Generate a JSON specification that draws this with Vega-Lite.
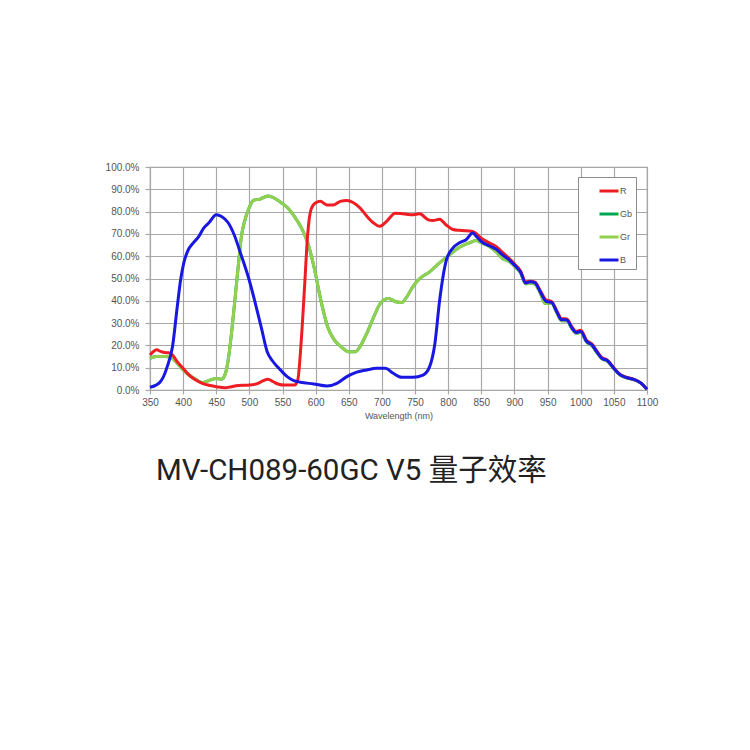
{
  "$schema": "https://vega.github.io/schema/vega-lite/v6.json",
  "autosize": {"type": "none"},
  "padding": {"left": 150, "top": 167, "right": 103, "bottom": 360},
  "width": 497,
  "height": 223,
  "background": "white",
  "title": {
    "text": "MV-CH089-60GC V5 量子效率",
    "orient": "bottom",
    "anchor": "start",
    "frame": "group",
    "baseline": "alphabetic",
    "offset": 60,
    "dx": 6,
    "font": "Roboto, Noto Sans CJK SC",
    "fontSize": 29.5,
    "fontWeight": "normal",
    "color": "#222222"
  },
  "datasets": {
    "qe": [
      {"ch":"R","wl":350,"qe":15.7},{"ch":"R","wl":355,"qe":17.2},{"ch":"R","wl":360,"qe":18},{"ch":"R","wl":366,"qe":17.3},{"ch":"R","wl":372,"qe":16.8},{"ch":"R","wl":378,"qe":16.7},{"ch":"R","wl":384,"qe":15.7},{"ch":"R","wl":391,"qe":12.7},{"ch":"R","wl":400,"qe":9.7},{"ch":"R","wl":409,"qe":6.7},{"ch":"R","wl":419,"qe":4.5},{"ch":"R","wl":429,"qe":3},{"ch":"R","wl":439,"qe":2.1},{"ch":"R","wl":450,"qe":1.5},{"ch":"R","wl":463,"qe":1.0},{"ch":"R","wl":473,"qe":1.5},{"ch":"R","wl":483,"qe":2.0},{"ch":"R","wl":500,"qe":2.2},{"ch":"R","wl":513,"qe":3.0},{"ch":"R","wl":521,"qe":4.2},{"ch":"R","wl":528,"qe":4.8},{"ch":"R","wl":536,"qe":3.7},{"ch":"R","wl":543,"qe":2.7},{"ch":"R","wl":553,"qe":2.2},{"ch":"R","wl":568,"qe":2.2},{"ch":"R","wl":573,"qe":4.5},{"ch":"R","wl":578,"qe":21},{"ch":"R","wl":583,"qe":45},{"ch":"R","wl":588,"qe":70},{"ch":"R","wl":593,"qe":81},{"ch":"R","wl":600,"qe":84},{"ch":"R","wl":607,"qe":84.6},{"ch":"R","wl":617,"qe":83},{"ch":"R","wl":627,"qe":83},{"ch":"R","wl":637,"qe":84.6},{"ch":"R","wl":647,"qe":85},{"ch":"R","wl":657,"qe":84},{"ch":"R","wl":667,"qe":81.6},{"ch":"R","wl":677,"qe":78},{"ch":"R","wl":687,"qe":75},{"ch":"R","wl":697,"qe":73.4},{"ch":"R","wl":707,"qe":75.6},{"ch":"R","wl":720,"qe":79.3},{"ch":"R","wl":732,"qe":79},{"ch":"R","wl":747,"qe":78.6},{"ch":"R","wl":757,"qe":79},{"ch":"R","wl":770,"qe":76.3},{"ch":"R","wl":777,"qe":76},{"ch":"R","wl":787,"qe":76.6},{"ch":"R","wl":797,"qe":74},{"ch":"R","wl":807,"qe":72},{"ch":"R","wl":817,"qe":71.6},{"ch":"R","wl":837,"qe":71.1},{"ch":"R","wl":850,"qe":68},{"ch":"R","wl":862,"qe":66},{"ch":"R","wl":872,"qe":64.4},{"ch":"R","wl":882,"qe":61.7},{"ch":"R","wl":892,"qe":59},{"ch":"R","wl":900,"qe":56.5},{"ch":"R","wl":909,"qe":53.5},{"ch":"R","wl":917,"qe":48.5},{"ch":"R","wl":924,"qe":48.8},{"ch":"R","wl":931,"qe":48.4},{"ch":"R","wl":939,"qe":44.5},{"ch":"R","wl":948,"qe":40.3},{"ch":"R","wl":956,"qe":39.7},{"ch":"R","wl":964,"qe":35.4},{"ch":"R","wl":971,"qe":32},{"ch":"R","wl":979,"qe":31.8},{"ch":"R","wl":987,"qe":28.2},{"ch":"R","wl":993,"qe":26.3},{"ch":"R","wl":1000,"qe":26.8},{"ch":"R","wl":1009,"qe":22.2},{"ch":"R","wl":1017,"qe":20.6},{"ch":"R","wl":1024,"qe":17.6},{"ch":"R","wl":1032,"qe":14.5},{"ch":"R","wl":1040,"qe":13.4},{"ch":"R","wl":1050,"qe":9.9},{"ch":"R","wl":1060,"qe":6.8},{"ch":"R","wl":1070,"qe":5.6},{"ch":"R","wl":1080,"qe":4.8},{"ch":"R","wl":1090,"qe":3.3},{"ch":"R","wl":1100,"qe":0.3},

      {"ch":"Gb","wl":350,"qe":14.2},{"ch":"Gb","wl":359,"qe":15},{"ch":"Gb","wl":374,"qe":15},{"ch":"Gb","wl":384,"qe":14.2},{"ch":"Gb","wl":391,"qe":12},{"ch":"Gb","wl":400,"qe":9},{"ch":"Gb","wl":409,"qe":6.7},{"ch":"Gb","wl":419,"qe":4.8},{"ch":"Gb","wl":429,"qe":3.3},{"ch":"Gb","wl":439,"qe":4.2},{"ch":"Gb","wl":450,"qe":5.2},{"ch":"Gb","wl":458,"qe":4.8},{"ch":"Gb","wl":463,"qe":6.7},{"ch":"Gb","wl":468,"qe":13.5},{"ch":"Gb","wl":473,"qe":25.4},{"ch":"Gb","wl":478,"qe":40},{"ch":"Gb","wl":483,"qe":55},{"ch":"Gb","wl":488,"qe":69},{"ch":"Gb","wl":493,"qe":76},{"ch":"Gb","wl":500,"qe":82},{"ch":"Gb","wl":506,"qe":85},{"ch":"Gb","wl":516,"qe":85.6},{"ch":"Gb","wl":528,"qe":87},{"ch":"Gb","wl":538,"qe":86},{"ch":"Gb","wl":548,"qe":84},{"ch":"Gb","wl":558,"qe":81.6},{"ch":"Gb","wl":568,"qe":77.8},{"ch":"Gb","wl":578,"qe":73},{"ch":"Gb","wl":588,"qe":66},{"ch":"Gb","wl":598,"qe":54.5},{"ch":"Gb","wl":608,"qe":40},{"ch":"Gb","wl":618,"qe":28.4},{"ch":"Gb","wl":628,"qe":22.5},{"ch":"Gb","wl":638,"qe":19.5},{"ch":"Gb","wl":650,"qe":17.2},{"ch":"Gb","wl":660,"qe":17.2},{"ch":"Gb","wl":668,"qe":20},{"ch":"Gb","wl":678,"qe":26},{"ch":"Gb","wl":688,"qe":33},{"ch":"Gb","wl":698,"qe":39},{"ch":"Gb","wl":710,"qe":41},{"ch":"Gb","wl":720,"qe":39.7},{"ch":"Gb","wl":730,"qe":39.2},{"ch":"Gb","wl":737,"qe":41.5},{"ch":"Gb","wl":746,"qe":46},{"ch":"Gb","wl":757,"qe":50},{"ch":"Gb","wl":772,"qe":53},{"ch":"Gb","wl":787,"qe":57},{"ch":"Gb","wl":802,"qe":60.6},{"ch":"Gb","wl":817,"qe":64},{"ch":"Gb","wl":832,"qe":66},{"ch":"Gb","wl":842,"qe":67},{"ch":"Gb","wl":850,"qe":66},{"ch":"Gb","wl":862,"qe":64.4},{"ch":"Gb","wl":872,"qe":62},{"ch":"Gb","wl":882,"qe":59},{"ch":"Gb","wl":892,"qe":57.6},{"ch":"Gb","wl":902,"qe":55},{"ch":"Gb","wl":909,"qe":52.6},{"ch":"Gb","wl":917,"qe":47.6},{"ch":"Gb","wl":924,"qe":48},{"ch":"Gb","wl":931,"qe":47.5},{"ch":"Gb","wl":939,"qe":43.5},{"ch":"Gb","wl":946,"qe":38.8},{"ch":"Gb","wl":956,"qe":38.9},{"ch":"Gb","wl":964,"qe":34.6},{"ch":"Gb","wl":971,"qe":31.1},{"ch":"Gb","wl":979,"qe":31},{"ch":"Gb","wl":987,"qe":27.3},{"ch":"Gb","wl":993,"qe":25.4},{"ch":"Gb","wl":1000,"qe":25.8},{"ch":"Gb","wl":1009,"qe":21.4},{"ch":"Gb","wl":1017,"qe":19.9},{"ch":"Gb","wl":1024,"qe":16.9},{"ch":"Gb","wl":1032,"qe":14},{"ch":"Gb","wl":1040,"qe":13},{"ch":"Gb","wl":1050,"qe":9.6},{"ch":"Gb","wl":1060,"qe":6.6},{"ch":"Gb","wl":1070,"qe":5.4},{"ch":"Gb","wl":1080,"qe":4.7},{"ch":"Gb","wl":1090,"qe":3.2},{"ch":"Gb","wl":1100,"qe":0.3},

      {"ch":"Gr","wl":350,"qe":14.2},{"ch":"Gr","wl":359,"qe":15},{"ch":"Gr","wl":374,"qe":15},{"ch":"Gr","wl":384,"qe":14.2},{"ch":"Gr","wl":391,"qe":12},{"ch":"Gr","wl":400,"qe":9},{"ch":"Gr","wl":409,"qe":6.7},{"ch":"Gr","wl":419,"qe":4.8},{"ch":"Gr","wl":429,"qe":3.3},{"ch":"Gr","wl":439,"qe":4.2},{"ch":"Gr","wl":450,"qe":5.2},{"ch":"Gr","wl":458,"qe":4.8},{"ch":"Gr","wl":463,"qe":6.7},{"ch":"Gr","wl":468,"qe":13.5},{"ch":"Gr","wl":473,"qe":25.4},{"ch":"Gr","wl":478,"qe":40},{"ch":"Gr","wl":483,"qe":55},{"ch":"Gr","wl":488,"qe":69},{"ch":"Gr","wl":493,"qe":76},{"ch":"Gr","wl":500,"qe":82},{"ch":"Gr","wl":506,"qe":85},{"ch":"Gr","wl":516,"qe":85.6},{"ch":"Gr","wl":528,"qe":87},{"ch":"Gr","wl":538,"qe":86},{"ch":"Gr","wl":548,"qe":84},{"ch":"Gr","wl":558,"qe":81.6},{"ch":"Gr","wl":568,"qe":77.8},{"ch":"Gr","wl":578,"qe":73},{"ch":"Gr","wl":588,"qe":66},{"ch":"Gr","wl":598,"qe":54.5},{"ch":"Gr","wl":608,"qe":40},{"ch":"Gr","wl":618,"qe":28.4},{"ch":"Gr","wl":628,"qe":22.5},{"ch":"Gr","wl":638,"qe":19.5},{"ch":"Gr","wl":650,"qe":17.2},{"ch":"Gr","wl":660,"qe":17.2},{"ch":"Gr","wl":668,"qe":20},{"ch":"Gr","wl":678,"qe":26},{"ch":"Gr","wl":688,"qe":33},{"ch":"Gr","wl":698,"qe":39},{"ch":"Gr","wl":710,"qe":41},{"ch":"Gr","wl":720,"qe":39.7},{"ch":"Gr","wl":730,"qe":39.2},{"ch":"Gr","wl":737,"qe":41.5},{"ch":"Gr","wl":746,"qe":46},{"ch":"Gr","wl":757,"qe":50},{"ch":"Gr","wl":772,"qe":53},{"ch":"Gr","wl":787,"qe":57},{"ch":"Gr","wl":802,"qe":60.6},{"ch":"Gr","wl":817,"qe":64},{"ch":"Gr","wl":832,"qe":66},{"ch":"Gr","wl":842,"qe":67},{"ch":"Gr","wl":850,"qe":66},{"ch":"Gr","wl":862,"qe":64.4},{"ch":"Gr","wl":872,"qe":62},{"ch":"Gr","wl":882,"qe":59},{"ch":"Gr","wl":892,"qe":57.6},{"ch":"Gr","wl":902,"qe":55},{"ch":"Gr","wl":909,"qe":52.6},{"ch":"Gr","wl":917,"qe":47.6},{"ch":"Gr","wl":924,"qe":48},{"ch":"Gr","wl":931,"qe":47.5},{"ch":"Gr","wl":939,"qe":43.5},{"ch":"Gr","wl":946,"qe":38.8},{"ch":"Gr","wl":956,"qe":38.9},{"ch":"Gr","wl":964,"qe":34.6},{"ch":"Gr","wl":971,"qe":31.1},{"ch":"Gr","wl":979,"qe":31},{"ch":"Gr","wl":987,"qe":27.3},{"ch":"Gr","wl":993,"qe":25.4},{"ch":"Gr","wl":1000,"qe":25.8},{"ch":"Gr","wl":1009,"qe":21.4},{"ch":"Gr","wl":1017,"qe":19.9},{"ch":"Gr","wl":1024,"qe":16.9},{"ch":"Gr","wl":1032,"qe":14},{"ch":"Gr","wl":1040,"qe":13},{"ch":"Gr","wl":1050,"qe":9.6},{"ch":"Gr","wl":1060,"qe":6.6},{"ch":"Gr","wl":1070,"qe":5.4},{"ch":"Gr","wl":1080,"qe":4.7},{"ch":"Gr","wl":1090,"qe":3.2},{"ch":"Gr","wl":1100,"qe":0.3},

      {"ch":"B","wl":350,"qe":1.2},{"ch":"B","wl":359,"qe":2.2},{"ch":"B","wl":365,"qe":3.5},{"ch":"B","wl":369,"qe":5.2},{"ch":"B","wl":376,"qe":10.5},{"ch":"B","wl":384,"qe":19.5},{"ch":"B","wl":391,"qe":37},{"ch":"B","wl":396,"qe":49},{"ch":"B","wl":401,"qe":57},{"ch":"B","wl":408,"qe":63},{"ch":"B","wl":414,"qe":65.5},{"ch":"B","wl":424,"qe":69},{"ch":"B","wl":431,"qe":72.6},{"ch":"B","wl":439,"qe":75},{"ch":"B","wl":450,"qe":78.6},{"ch":"B","wl":458,"qe":77.8},{"ch":"B","wl":468,"qe":75},{"ch":"B","wl":477,"qe":69.6},{"ch":"B","wl":487,"qe":61},{"ch":"B","wl":500,"qe":49},{"ch":"B","wl":508,"qe":40},{"ch":"B","wl":518,"qe":28},{"ch":"B","wl":527,"qe":17},{"ch":"B","wl":535,"qe":13},{"ch":"B","wl":542,"qe":10.5},{"ch":"B","wl":550,"qe":8},{"ch":"B","wl":557,"qe":6},{"ch":"B","wl":567,"qe":4.2},{"ch":"B","wl":577,"qe":3.5},{"ch":"B","wl":597,"qe":2.7},{"ch":"B","wl":617,"qe":1.8},{"ch":"B","wl":632,"qe":3},{"ch":"B","wl":647,"qe":6},{"ch":"B","wl":662,"qe":8},{"ch":"B","wl":677,"qe":9},{"ch":"B","wl":692,"qe":9.7},{"ch":"B","wl":705,"qe":9.7},{"ch":"B","wl":717,"qe":7.5},{"ch":"B","wl":730,"qe":5.7},{"ch":"B","wl":747,"qe":5.7},{"ch":"B","wl":762,"qe":6.7},{"ch":"B","wl":772,"qe":10.5},{"ch":"B","wl":780,"qe":21},{"ch":"B","wl":787,"qe":40},{"ch":"B","wl":797,"qe":58},{"ch":"B","wl":807,"qe":63.6},{"ch":"B","wl":817,"qe":66},{"ch":"B","wl":827,"qe":67.4},{"ch":"B","wl":837,"qe":70.4},{"ch":"B","wl":842,"qe":69},{"ch":"B","wl":850,"qe":66.6},{"ch":"B","wl":862,"qe":64.7},{"ch":"B","wl":872,"qe":63.2},{"ch":"B","wl":882,"qe":60.6},{"ch":"B","wl":892,"qe":58.4},{"ch":"B","wl":900,"qe":56},{"ch":"B","wl":909,"qe":53},{"ch":"B","wl":917,"qe":48},{"ch":"B","wl":924,"qe":48.5},{"ch":"B","wl":931,"qe":48},{"ch":"B","wl":939,"qe":44},{"ch":"B","wl":948,"qe":39.7},{"ch":"B","wl":956,"qe":39.3},{"ch":"B","wl":964,"qe":35},{"ch":"B","wl":971,"qe":31.5},{"ch":"B","wl":979,"qe":31.4},{"ch":"B","wl":987,"qe":27.7},{"ch":"B","wl":993,"qe":25.8},{"ch":"B","wl":1000,"qe":26.2},{"ch":"B","wl":1009,"qe":21.7},{"ch":"B","wl":1017,"qe":20.2},{"ch":"B","wl":1024,"qe":17.2},{"ch":"B","wl":1032,"qe":14.2},{"ch":"B","wl":1040,"qe":13.2},{"ch":"B","wl":1050,"qe":9.7},{"ch":"B","wl":1060,"qe":6.7},{"ch":"B","wl":1070,"qe":5.5},{"ch":"B","wl":1080,"qe":4.8},{"ch":"B","wl":1090,"qe":3.3},{"ch":"B","wl":1100,"qe":0.3}
    ]
  },
  "data": {"name": "qe"},
  "encoding": {
    "x": {
      "field": "wl", "type": "quantitative",
      "scale": {"domain": [350, 1100], "nice": false, "zero": false},
      "axis": {"values": [350,400,450,500,550,600,650,700,750,800,850,900,950,1000,1050,1100], "format": "d", "labelOverlap": false, "labelFlush": false, "labelBound": false, "title": "Wavelength  (nm)", "titlePadding": 4, "labelPadding": 3, "tickSize": 4}
    },
    "y": {
      "field": "qe", "type": "quantitative",
      "scale": {"domain": [0, 100], "nice": false},
      "axis": {"values": [0,10,20,30,40,50,60,70,80,90,100], "title": null, "labelOverlap": false, "labelFlush": false, "labelBound": false, "labelExpr": "format(datum.value, '.1f') + '%'", "labelPadding": 6, "tickSize": 5}
    },
    "color": {
      "field": "ch", "type": "nominal",
      "scale": {"domain": ["R", "Gb", "Gr", "B"], "range": ["#ee1d23", "#00a651", "#92d050", "#1818e0"]},
      "legend": {
        "title": null,
        "orient": "none",
        "legendX": 428,
        "legendY": 10,
        "symbolType": "stroke",
        "symbolSize": 361,
        "symbolStrokeWidth": 3,
        "symbolOffset": 17,
        "padding": 3,
        "rowPadding": 6,
        "labelOffset": 0,
        "labelFont": "Liberation Sans",
        "labelFontSize": 9,
        "labelColor": "#555555",
        "labelExpr": "datum.label + '\u00a0\u00a0\u00a0\u00a0\u00a0\u00a0\u00a0\u00a0\u00a0\u00a0'",
        "strokeColor": "#8c8c8c",
        "fillColor": "white"
      }
    }
  },
  "layer": [
    {"transform": [{"filter": "datum.ch === 'Gb'"}], "mark": {"type": "line", "strokeWidth": 3, "interpolate": "monotone"}},
    {"transform": [{"filter": "datum.ch === 'Gr'"}], "mark": {"type": "line", "strokeWidth": 3, "interpolate": "monotone"}},
    {"transform": [{"filter": "datum.ch === 'R'"}], "mark": {"type": "line", "strokeWidth": 3, "interpolate": "monotone"}},
    {"transform": [{"filter": "datum.ch === 'B'"}], "mark": {"type": "line", "strokeWidth": 3, "interpolate": "monotone"}}
  ],
  "config": {
    "view": {"stroke": "#9a9a9a", "strokeWidth": 1.2},
    "axis": {
      "domain": false,
      "grid": true,
      "gridColor": "#a8a8a8",
      "gridWidth": 1.2,
      "tickColor": "#a8a8a8",
      "tickWidth": 1.2,
      "labelFont": "Liberation Sans",
      "labelFontSize": 10,
      "labelColor": "#555555",
      "titleFont": "Liberation Sans",
      "titleFontSize": 9,
      "titleFontWeight": "normal",
      "titleColor": "#555555"
    }
  }
}
